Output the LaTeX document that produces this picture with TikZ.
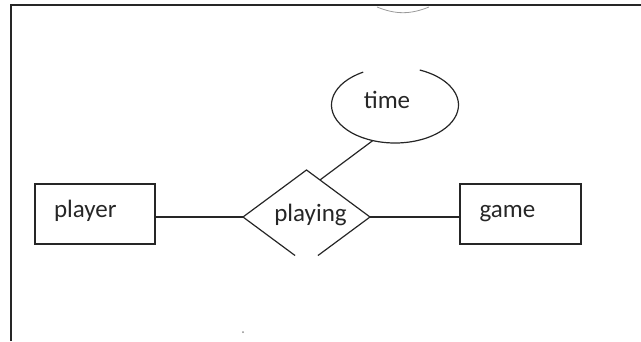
\documentclass[tikz,border=0pt]{standalone}
\usepackage{fontspec}
\setmainfont{Carlito}
\usetikzlibrary{shapes.geometric,calc}
\begin{document}
\begin{tikzpicture}[x=1pt,y=1pt,
  ln/.style={draw=black!85,line width=1.2pt},
  entity/.style={rectangle,ln,minimum width=120pt,minimum height=60pt,
    text width=82pt,align=left,inner xsep=19pt,inner ysep=0pt,outer sep=0pt,
    text height=16pt,text depth=10pt},
  relshape/.style={diamond,draw=none,inner sep=0pt,outer sep=0pt,
    minimum width=127pt,minimum height=94pt,aspect=1.35},
  attr/.style={ellipse,draw=none,inner sep=0pt,outer sep=0pt,
    minimum width=127pt,minimum height=76pt},
  every node/.style={font=\fontsize{25}{30}\selectfont,text=black!85}]
\useasboundingbox (0,0) rectangle (641,341);
% frame (only left and top sides visible)
\coordinate (fbl) at (11,0);
\coordinate (ftl) at (11,336);
\coordinate (ftr) at (641,336);
\draw[ln,line width=1.4pt] (fbl) -- (ftl) -- (ftr);
% small marks below the top line
\coordinate (m1) at (377,334);
\coordinate (m2) at (429,334);
\draw[black!40,line width=0.8pt] (m1) to[bend right=22] (m2);
\coordinate (spk) at (243,9);
\fill[black!45] (spk) circle (1pt);
% entities
\node[entity] (player) at (95,127) {player};
\node[entity,minimum width=121pt] (game) at (520.5,127) {game};
% relationship
\node[relshape,label={[xshift=4pt,yshift=2pt]center:playing}] (playing) at (306.5,124) {};
\draw[ln,line join=miter] ($(playing.west)!0.82!(playing.south)$) -- (playing.west)
  -- (playing.north) -- (playing.east) -- ($(playing.east)!0.82!(playing.south)$);
% attribute
\node[attr,label={[xshift=-8pt,yshift=5pt]center:time}] (time) at (395,236) {};
\draw[ln] ([shift={(120:63.5 and 38)}]time.center)
  arc[start angle=120,end angle=427,x radius=63.5,y radius=38];
% connectors
\draw[ln] (player.east |- playing.west) -- (playing.west);
\draw[ln] (playing.east) -- (game.west |- playing.east);
\draw[ln] (time.238) -- (playing.70);
\end{tikzpicture}
\end{document}
